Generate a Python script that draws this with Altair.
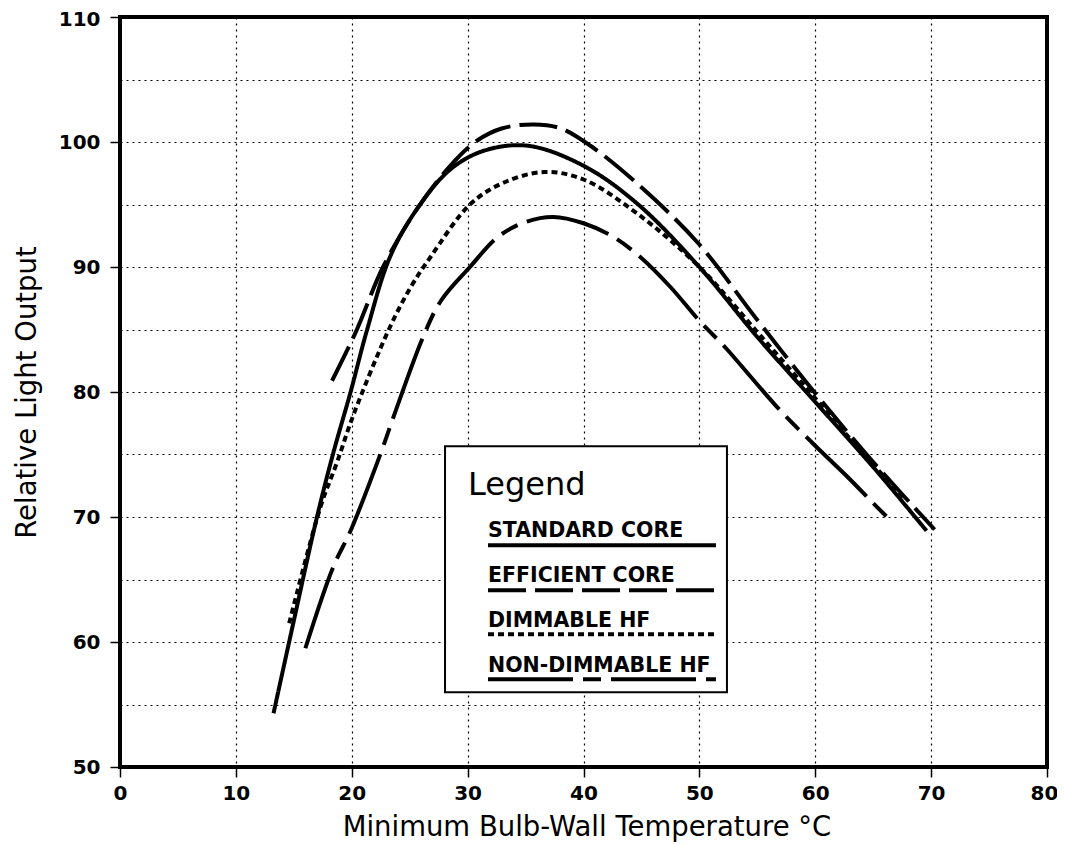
import altair as alt
import pandas as pd

series_names = ["STANDARD CORE", "EFFICIENT CORE", "DIMMABLE HF", "NON-DIMMABLE HF"]

standard_x = [13.25, 15.0, 17.0, 18.4, 19.9, 21.3, 23.3, 25.6, 28.5, 31.4, 35.2, 40.0, 44.6, 50.0, 55.0, 60.0, 65.0, 69.6]
standard_y = [54.3, 61.7, 70.0, 75.1, 80.0, 84.9, 90.8, 94.6, 97.8, 99.3, 99.7, 98.1, 95.1, 90.0, 84.4, 79.2, 74.0, 68.9]

efficient_x = [18.3, 20.4, 22.7, 25.6, 28.5, 30.8, 33.0, 35.7, 38.0, 40.6, 44.6, 49.9, 54.8, 60.0, 65.0, 70.3]
efficient_y = [80.9, 84.9, 90.0, 94.6, 98.1, 100.1, 101.1, 101.4, 101.1, 99.7, 96.7, 91.9, 86.0, 79.9, 74.4, 69.0]

dimmable_x = [14.6, 17.3, 18.7, 20.2, 23.3, 25.1, 26.8, 30.2, 33.0, 36.6, 40.0, 44.6, 50.0, 55.0, 60.0, 64.0, 67.7]
dimmable_y = [61.5, 70.8, 74.3, 78.3, 85.2, 88.4, 90.8, 95.0, 96.7, 97.6, 97.0, 94.3, 90.0, 84.8, 79.5, 75.2, 71.5]

nondim_x = [16.0, 18.4, 19.9, 22.5, 23.6, 26.2, 27.7, 30.2, 32.6, 35.0, 37.4, 40.0, 42.6, 44.9, 47.5, 50.0, 52.3, 55.0, 57.1, 60.0, 62.9, 64.8, 66.3]
nondim_y = [59.5, 66.0, 68.9, 75.1, 78.0, 84.5, 87.3, 90.0, 92.4, 93.6, 94.0, 93.5, 92.4, 90.8, 88.4, 85.7, 83.5, 80.6, 78.4, 75.7, 73.1, 71.3, 69.9]

x_ticks = [0, 10, 20, 30, 40, 50, 60, 70, 80]
y_grid = [50, 55, 60, 65, 70, 75, 80, 85, 90, 95, 100, 105, 110]

dash_styles = [[1, 0], [38, 9], [6, 4], [85, 10, 18, 10]]

# legend layout (in data units)
legend_title = "Legend"
legend_box = {"x1": 28.05, "x2": 52.38, "y1": 55.98, "y2": 75.66}
legend_title_pos = (30.03, 71.74)
legend_label_x = 31.76
legend_label_y = [68.38, 64.78, 61.18, 57.58]
legend_line_x = (31.76, 51.43)
legend_line_y = [67.74, 64.14, 60.62, 57.02]

rows = []
for name, xs, ys in zip(series_names,
                        [standard_x, efficient_x, dimmable_x, nondim_x],
                        [standard_y, efficient_y, dimmable_y, nondim_y]):
    for a, b in zip(xs, ys):
        rows.append({"series": name, "temp": a, "light": b})
df = pd.DataFrame(rows)

leg_df = pd.DataFrame({
    "series": series_names,
    "tx": [legend_label_x] * 4,
    "ty": legend_label_y,
    "lx1": [legend_line_x[0]] * 4,
    "lx2": [legend_line_x[1]] * 4,
    "ly": legend_line_y,
})
box_df = pd.DataFrame([legend_box])
title_df = pd.DataFrame({"t": [legend_title], "x": [legend_title_pos[0]], "y": [legend_title_pos[1]]})

xscale = alt.Scale(domain=[0, 80], nice=False, zero=False)
yscale = alt.Scale(domain=[50, 110], nice=False, zero=False)
dash_scale = alt.Scale(domain=series_names, range=dash_styles)

tick_font = "DejaVu Sans"
title_font = "DejaVu Sans"

x_axis = alt.Axis(
    values=x_ticks, grid=True, gridDash=[2, 4], gridColor="black", gridWidth=1.2, gridOpacity=1,
    domain=False, ticks=True, tickSize=10, tickColor="black", tickWidth=1.5,
    labelFont=tick_font, labelFontSize=20, labelFontWeight="bold", labelColor="black",
    labelPadding=6, labelFlush=False,
    labelOffset={"condition": {"test": "datum.value === 80", "value": -3}, "value": 0},
    title="Minimum Bulb-Wall Temperature °C", titleFont=title_font, titleFontSize=27.5,
    titleFontWeight="normal", titleColor="black", titleX=466.5, titleY=68,
    titleAlign="center", titleBaseline="alphabetic",
)
y_axis = alt.Axis(
    values=y_grid, grid=True, gridDash=[2, 4], gridColor="black", gridWidth=1.2, gridOpacity=1,
    domain=False, ticks=True, tickSize=10, tickColor="black", tickWidth=1.5,
    tickOpacity={"condition": {"test": "datum.value % 10 === 0", "value": 1}, "value": 0},
    labelExpr="datum.value % 10 === 0 ? datum.label : ''",
    labelOffset={"condition": {"test": "datum.value === 110", "value": 2}, "value": 0},
    labelFont=tick_font, labelFontSize=20, labelFontWeight="bold", labelColor="black",
    labelPadding=10, labelFlush=False,
    title="Relative Light Output", titleFont=title_font, titleFontSize=27.5,
    titleFontWeight="normal", titleColor="black", titleAngle=270, titleX=-93, titleY=375,
    titleAlign="center", titleBaseline="middle",
)

lines = alt.Chart(df).mark_line(color="black", strokeWidth=4, interpolate="catmull-rom").encode(
    x=alt.X("temp:Q", scale=xscale, axis=x_axis),
    y=alt.Y("light:Q", scale=yscale, axis=y_axis),
    strokeDash=alt.StrokeDash("series:N", scale=dash_scale, legend=None),
    detail="series:N",
)

box = alt.Chart(box_df).mark_rect(fill="white", stroke="black", strokeWidth=2).encode(
    x=alt.X("x1:Q", scale=xscale, axis=x_axis),
    x2="x2:Q",
    y=alt.Y("y1:Q", scale=yscale, axis=y_axis),
    y2="y2:Q",
)

leg_title = alt.Chart(title_df).mark_text(
    align="left", baseline="alphabetic", font=title_font, fontSize=32, color="black"
).encode(
    x=alt.X("x:Q", scale=xscale, axis=x_axis),
    y=alt.Y("y:Q", scale=yscale, axis=y_axis),
    text="t:N",
)

leg_text = alt.Chart(leg_df).mark_text(
    align="left", baseline="alphabetic", font=title_font, fontSize=20.5, fontWeight="bold", color="black"
).encode(
    x=alt.X("tx:Q", scale=xscale, axis=x_axis),
    y=alt.Y("ty:Q", scale=yscale, axis=y_axis),
    text="series:N",
)

leg_lines = alt.Chart(leg_df).mark_rule(color="black", strokeWidth=4).encode(
    x=alt.X("lx1:Q", scale=xscale, axis=x_axis),
    x2="lx2:Q",
    y=alt.Y("ly:Q", scale=yscale, axis=y_axis),
    strokeDash=alt.StrokeDash("series:N", scale=dash_scale, legend=None),
)

chart = alt.layer(lines, box, leg_title, leg_text, leg_lines).properties(
    width=927, height=750,
    autosize=alt.AutoSizeParams(type="none"),
    padding={"left": 112, "top": 9, "right": 10, "bottom": 76},
    background="white",
).configure_view(stroke="black", strokeWidth=4)

chart.save("out.html", embed_options={"renderer": "svg", "actions": False})
